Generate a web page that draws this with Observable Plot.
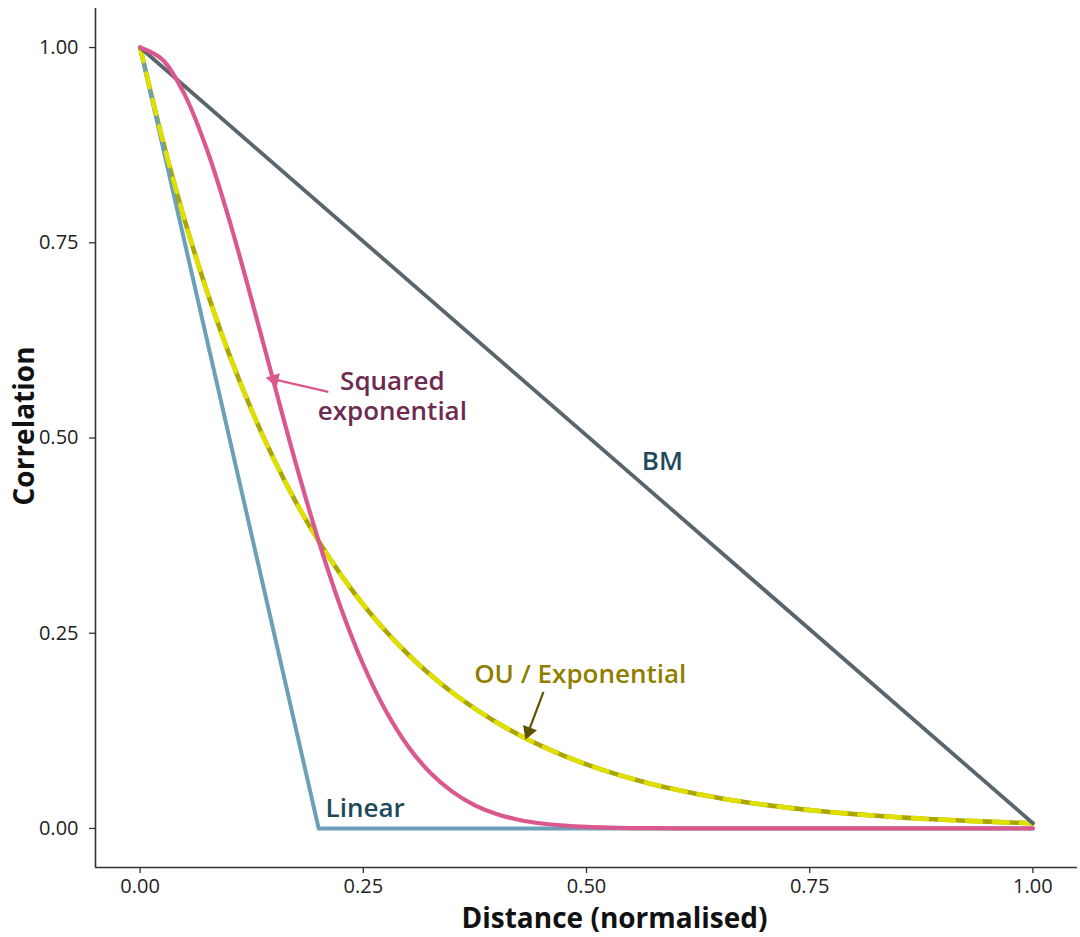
<!DOCTYPE html>
<html><head><meta charset="utf-8">
<script src="https://cdn.jsdelivr.net/npm/d3@7"></script>
<script src="https://cdn.jsdelivr.net/npm/@observablehq/plot@0.6"></script>
<style>body{margin:0;background:#fff;} #chart{width:1080px;height:937px;}</style>
</head><body><div id="chart"></div>
<script>
const distance = [0,0.025,0.05,0.075,0.1,0.125,0.15,0.175,0.2,0.225,0.25,0.275,0.3,0.325,0.35,0.375,0.4,0.425,0.45,0.475,0.5,0.525,0.55,0.575,0.6,0.625,0.65,0.675,0.7,0.725,0.75,0.775,0.8,0.825,0.85,0.875,0.9,0.925,0.95,0.975,1];
const squaredExp = [1,0.9845,0.9394,0.8688,0.7788,0.6766,0.5698,0.4650,0.3679,0.2821,0.2096,0.1510,0.1054,0.0713,0.0468,0.0297,0.0183,0.0109,0.0063,0.0036,0.0019,0.0010,0.0005,0.0003,0.0001,0,0,0,0,0,0,0,0,0,0,0,0,0,0,0,0];
const ouExp = [1,0.8825,0.7788,0.6873,0.6065,0.5353,0.4724,0.4169,0.3679,0.3247,0.2865,0.2528,0.2231,0.1969,0.1738,0.1534,0.1353,0.1194,0.1054,0.0930,0.0821,0.0724,0.0639,0.0564,0.0498,0.0439,0.0388,0.0342,0.0302,0.0267,0.0235,0.0208,0.0183,0.0162,0.0143,0.0126,0.0111,0.0098,0.0087,0.0076,0.0067];
const linearX = [0, 0.2, 1];
const linearY = [1, 0, 0];
const bmX = [0, 1];
const bmY = [1, 0.0067];
const xTicks = [0, 0.25, 0.5, 0.75, 1];
const yTicks = [0, 0.25, 0.5, 0.75, 1];
const labelText = ["Squared\nexponential", "BM", "OU / Exponential", "Linear"];
const labelX = [0.2825, 0.585, 0.493, 0.252];
const labelY = [0.554, 0.471, 0.198, 0.027];
const labelColor = ["#6e2b4f", "#1e4a5c", "#8f7f00", "#1e4a5c"];
const arrowX1 = [0.2108, 0.4518];
const arrowY1 = [0.559, 0.175];
const arrowX2 = [0.150, 0.435];
const arrowY2 = [0.575, 0.124];
const arrowColor = ["#d9598f", "#5d5200"];
const arrowRotate = [-77.5, -159.4];

const curves = distance.map((d, i) => ({d, sq: squaredExp[i], ou: ouExp[i]}));
const linear = linearX.map((x, i) => ({x, y: linearY[i]}));
const bm = bmX.map((x, i) => ({x, y: bmY[i]}));
const labels = labelText.map((t, i) => ({t, x: labelX[i], y: labelY[i], c: labelColor[i]}));
const arrows = arrowX1.map((x1, i) => ({x1, y1: arrowY1[i], x2: arrowX2[i], y2: arrowY2[i], c: arrowColor[i], r: arrowRotate[i]}));
const fmt = d3.format(".2f");

const chart = Plot.plot({
  width: 1080,
  height: 937,
  marginLeft: 95,
  marginRight: 3,
  marginTop: 8,
  marginBottom: 70,
  style: {fontFamily: "'Open Sans', sans-serif", background: "white", fontSize: "20px"},
  x: {domain: [-0.05, 1.05]},
  y: {domain: [-0.05, 1.05]},
  marks: [
    Plot.axisX({ticks: xTicks, tickFormat: fmt, tickSize: 6, tickPadding: 5, fontSize: 20, label: null, stroke: "#333", fill: "#222", strokeWidth: 1.3}),
    Plot.axisY({ticks: yTicks, tickFormat: fmt, tickSize: 6, tickPadding: 11, fontSize: 20, label: null, stroke: "#333", fill: "#222", strokeWidth: 1.3}),
    Plot.ruleX([-0.05], {stroke: "#333", strokeWidth: 1.6}),
    Plot.ruleY([-0.05], {stroke: "#333", strokeWidth: 1.6}),
    Plot.line(curves, {x: "d", y: "ou", stroke: "#aaa600", strokeWidth: 4.6, curve: "catmull-rom"}),
    Plot.line(linear, {x: "x", y: "y", stroke: "#6aa0b8", strokeWidth: 4}),
    Plot.line(curves, {x: "d", y: "ou", stroke: "#e0e000", strokeWidth: 4.6, strokeDasharray: "14,13", curve: "catmull-rom"}),
    Plot.line(bm, {x: "x", y: "y", stroke: "#59666d", strokeWidth: 3.8}),
    Plot.line(curves, {x: "d", y: "sq", stroke: "#d9598f", strokeWidth: 4.2, curve: "catmull-rom"}),
    Plot.link(arrows, {x1: "x1", y1: "y1", x2: "x2", y2: "y2", stroke: "c", strokeWidth: 2.2}),
    Plot.dot(arrows, {x: "x2", y: "y2", symbol: "triangle", r: 5.5, fill: "c", stroke: "none", rotate: "r"}),
    Plot.text(labels, {x: "x", y: "y", text: "t", fill: "c", fontSize: 26, fontWeight: 600, lineHeight: 1.15, lineAnchor: "middle"}),
    Plot.text(["Correlation"], {frameAnchor: "left", textAnchor: "middle", dx: -70, dy: -12, rotate: -90, fontSize: 28, fontWeight: 700, fill: "#111", lineAnchor: "middle"}),
    Plot.text(["Distance (normalised)"], {frameAnchor: "bottom", textAnchor: "middle", dx: 28, dy: 52, fontSize: 28, fontWeight: 700, fill: "#111", lineAnchor: "middle"})
  ]
});
document.getElementById("chart").appendChild(chart);
</script>
</body></html>
